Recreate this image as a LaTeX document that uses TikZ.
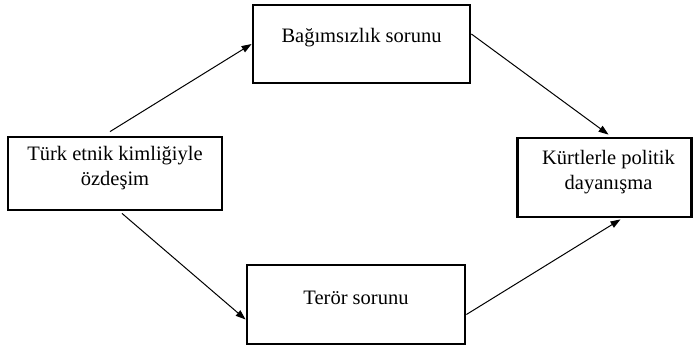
\documentclass[tikz,border=0pt]{standalone}
\usepackage{fontspec}
\setmainfont{Liberation Serif}
\usetikzlibrary{positioning, arrows.meta}

\tikzset{
  kutu/.style 2 args={draw, line width=2.8bp, minimum width=#1, minimum height=#2, inner sep=0pt},
  yazi/.style={font=\fontsize{20.5bp}{25bp}\selectfont, align=center, inner sep=0pt},
  ok/.style={-{Triangle[length=10bp,width=7bp]}, line width=1bp}
}

\begin{document}
\begin{tikzpicture}[x=1bp, y=-1bp]
  \useasboundingbox (0,0) rectangle (695,349);
  % Boxes
  \node[kutu={214bp}{73bp}] (turk) at (115,173.5) {};
  \node[kutu={217bp}{78bp}] (bag) at (361.5,44) {};
  \node[kutu={174bp}{79bp}] (kurt) at (604.5,177.5) {};
  \node[kutu={218bp}{79bp}] (teror) at (356,304.5) {};
  % Texts
  \node[yazi] (turkyazi) at ([yshift=5bp]turk.center) {Türk etnik kimliğiyle\\özdeşim};
  \node[yazi] (bagyazi) at ([yshift=6bp]bag.center) {Bağımsızlık sorunu};
  \node[yazi] (kurtyazi) at ([xshift=4bp, yshift=5bp]kurt.center) {Kürtlerle politik\\dayanışma};
  \node[yazi] (teroryazi) at ([yshift=7bp]teror.center) {Terör sorunu};
  % Arrows
  \draw[ok] ([xshift=-5bp, yshift=4bp]turk.north) -- (bag.west);
  \draw[ok] ([yshift=10bp]bag.east) -- ([xshift=4bp, yshift=2bp]kurt.north);
  \draw[ok] ([xshift=7bp, yshift=-2bp]turk.south) -- ([yshift=-15bp]teror.west);
  \draw[ok] ([yshift=-10bp]teror.east) -- ([xshift=16bp, yshift=-1bp]kurt.south);
\end{tikzpicture}
\end{document}
